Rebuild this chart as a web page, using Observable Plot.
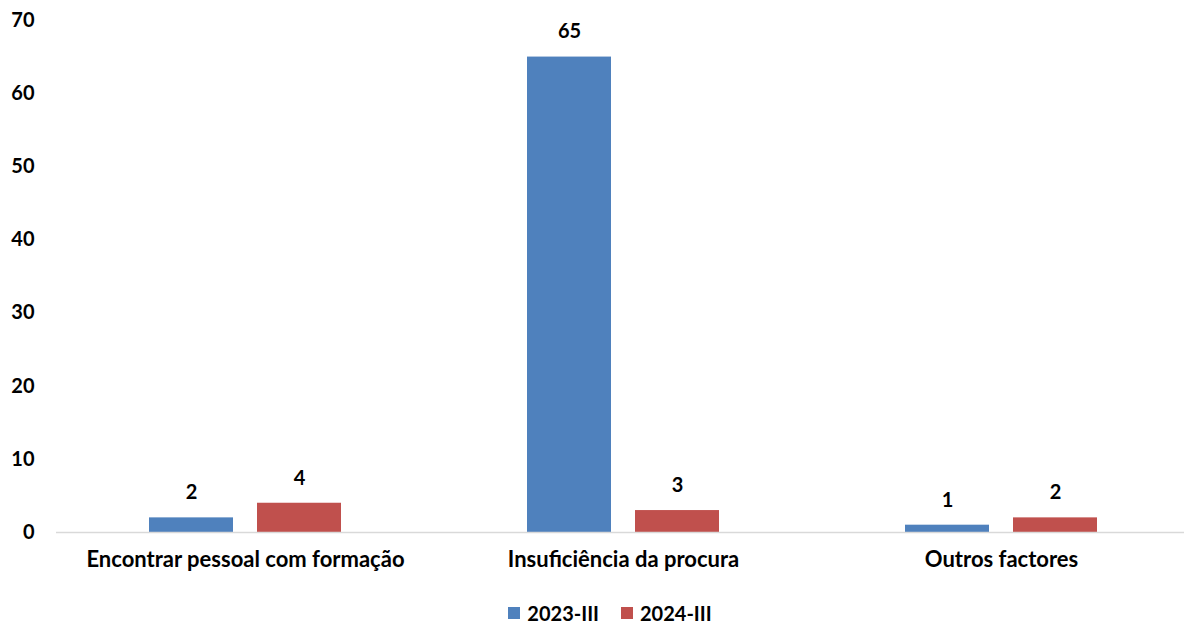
<!DOCTYPE html>
<html>
<head>
<meta charset="utf-8">
<script src="https://cdn.jsdelivr.net/npm/d3@7"></script>
<script src="https://cdn.jsdelivr.net/npm/@observablehq/plot@0.6"></script>
<style>
  body { margin: 0; background: #fff; font-family: Lato, "Open Sans", sans-serif; }
  #legend { display: flex; justify-content: center; gap: 22px; font-weight: bold; font-size: 20px; color: #000; margin-top: 13px; margin-left: 36px; }
  #legend span.item { display: flex; align-items: center; }
  #legend span.sw { width: 12px; height: 12px; display: inline-block; margin-right: 7px; }
</style>
</head>
<body>
<div id="chart"></div>
<div id="legend"></div>
<script>
const categories = ["Encontrar pessoal com formação", "Insuficiência da procura", "Outros factores"];
const seriesNames = ["2023-III", "2024-III"];
const values2023 = [2, 65, 1];
const values2024 = [4, 3, 2];
const colors = ["#4F81BD", "#C0504D"];
const yTicks = [0, 10, 20, 30, 40, 50, 60, 70];

const data = [];
categories.forEach((c, i) => {
  data.push({category: c, series: seriesNames[0], value: values2023[i]});
  data.push({category: c, series: seriesNames[1], value: values2024[i]});
});

const plot = Plot.plot({
  width: 1184,
  height: 588,
  marginLeft: 56,
  marginRight: -6,
  marginTop: 20,
  marginBottom: 56,
  style: {fontFamily: "Lato, 'Open Sans', sans-serif", fontSize: "20px", fontWeight: "bold", color: "#000", background: "#fff"},
  fx: {domain: categories, padding: 0, axis: "bottom", label: null, tickSize: 0, tickPadding: 19},
  x: {domain: seriesNames, paddingInner: 0.222, paddingOuter: 0.861, axis: null},
  y: {domain: [0, 70], ticks: yTicks, label: null, tickSize: 0, tickPadding: 22},
  color: {domain: seriesNames, range: colors},
  marks: [
    Plot.barY(data, {fx: "category", x: "series", y: "value", fill: "series"}),
    Plot.ruleY([0], {stroke: "#d9d9d9", strokeWidth: 1.5}),
    Plot.text(data, {fx: "category", x: "series", y: "value", text: d => String(d.value), dy: -25, fill: "#000", fontSize: 20, fontWeight: "bold"})
  ]
});
plot.querySelectorAll('[aria-label="fx-axis tick label"] text').forEach(t => t.setAttribute("font-size", "22px"));
plot.querySelectorAll('[aria-label="fx-axis tick label"]').forEach(g => g.setAttribute("font-size", "22px"));
document.getElementById("chart").appendChild(plot);

const legend = document.getElementById("legend");
seriesNames.forEach((s, i) => {
  const item = document.createElement("span");
  item.className = "item";
  const sw = document.createElement("span");
  sw.className = "sw";
  sw.style.background = colors[i];
  item.appendChild(sw);
  item.appendChild(document.createTextNode(s));
  legend.appendChild(item);
});
</script>
</body>
</html>
